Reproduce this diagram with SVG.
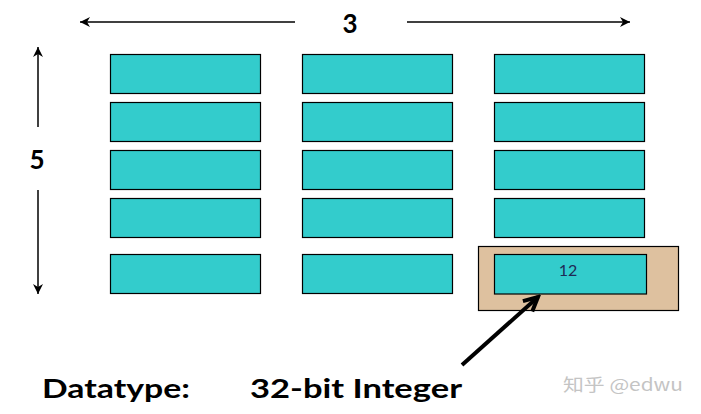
<svg xmlns="http://www.w3.org/2000/svg" width="701" height="414" viewBox="0 0 701 414">
<style>
.cell{fill:#33CCCC;stroke:#000;stroke-width:1.2}
.dim{stroke:#000;stroke-width:1.5;fill:none}
.lbl{font-family:Lato,"Liberation Sans",Arial,sans-serif;font-weight:bold;fill:#000}
</style>
<defs>
<marker id="ah" viewBox="0 0 12 12" refX="11" refY="6" markerWidth="12" markerHeight="12" markerUnits="userSpaceOnUse" orient="auto">
<path d="M1,1 L11,6 L1,11 L4,6 Z" fill="#000"/>
</marker>
<marker id="ahb" viewBox="0 0 20 20" refX="17" refY="10" markerWidth="20" markerHeight="20" markerUnits="userSpaceOnUse" orient="auto">
<path d="M3,3 L17,10 L3,17" fill="none" stroke="#000" stroke-width="4" stroke-linejoin="miter"/>
</marker>
</defs>
<rect width="701" height="414" fill="#fff"/>
<g id="highlight">
<rect x="478.5" y="246.5" width="200" height="64" fill="#DEC19F" stroke="#000" stroke-width="1.2"/>
</g>
<g id="col1">
<rect class="cell" x="110.5" y="54.5" width="150" height="39"/>
<rect class="cell" x="110.5" y="102.5" width="150" height="39"/>
<rect class="cell" x="110.5" y="150.5" width="150" height="39"/>
<rect class="cell" x="110.5" y="198.5" width="150" height="39"/>
<rect class="cell" x="110.5" y="254.5" width="150" height="39"/>
</g>
<g id="col2">
<rect class="cell" x="302.5" y="54.5" width="150" height="39"/>
<rect class="cell" x="302.5" y="102.5" width="150" height="39"/>
<rect class="cell" x="302.5" y="150.5" width="150" height="39"/>
<rect class="cell" x="302.5" y="198.5" width="150" height="39"/>
<rect class="cell" x="302.5" y="254.5" width="150" height="39"/>
</g>
<g id="col3">
<rect class="cell" x="494.5" y="54.5" width="150" height="39"/>
<rect class="cell" x="494.5" y="102.5" width="150" height="39"/>
<rect class="cell" x="494.5" y="150.5" width="150" height="39"/>
<rect class="cell" x="494.5" y="198.5" width="150" height="39"/>
</g>
<g id="cell12">
<rect class="cell" x="494.5" y="254.5" width="152" height="39.5"/>
<text x="568" y="276" text-anchor="middle" font-family="Lato,'Liberation Sans',Arial,sans-serif" font-size="16" fill="#1F2A55">12</text>
</g>
<g id="connectors">
<line class="dim" x1="295" y1="22" x2="80" y2="22" marker-end="url(#ah)"/>
<line class="dim" x1="407" y1="22" x2="630" y2="22" marker-end="url(#ah)"/>
<line class="dim" x1="38" y1="127" x2="38" y2="47" marker-end="url(#ah)"/>
<line class="dim" x1="38" y1="190" x2="38" y2="294" marker-end="url(#ah)"/>
<line x1="462" y1="365" x2="538" y2="297" stroke="#000" stroke-width="4" marker-end="url(#ahb)"/>
</g>
<g id="labels">
<text class="lbl" x="350" y="33" text-anchor="middle" font-size="26">3</text>
<text class="lbl" x="37" y="169" text-anchor="middle" font-size="26">5</text>
<text class="lbl" x="42" y="398" font-size="27" textLength="148" lengthAdjust="spacingAndGlyphs">Datatype:</text>
<text class="lbl" x="250" y="398" font-size="27" textLength="212" lengthAdjust="spacingAndGlyphs">32-bit Integer</text>
<text x="563" y="391" font-family="'Noto Sans CJK SC','Liberation Sans',sans-serif" font-size="17" fill="#C4C4C4" textLength="120" lengthAdjust="spacingAndGlyphs">知乎 @edwu</text>
</g>
</svg>
